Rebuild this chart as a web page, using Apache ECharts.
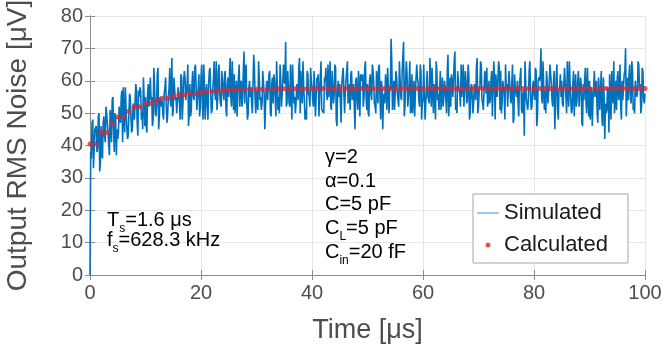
<!DOCTYPE html>
<html>
<head>
<meta charset="utf-8">
<script src="https://cdn.jsdelivr.net/npm/echarts@6/dist/echarts.min.js"></script>
<style>
  html, body { margin: 0; padding: 0; background: #fff; }
  #chart { width: 664px; height: 358px; }
</style>
</head>
<body>
<div id="chart"></div>
<script>
// simulated output noise, one sample every 0.125 us, one row per us
var simStep = 0.125;
var simulated = [
    0, 38, 36, 47, 48, 33, 39, 45,
    45, 46, 38, 39, 49, 50, 32, 35,
    46, 37, 36, 47, 49, 43, 41, 52,
    50, 47, 44, 40, 37, 51, 49, 41,
    54, 55, 45, 38, 50, 48, 37, 45,
    42, 44, 52, 50, 47, 55, 57, 41,
    58, 49, 44, 58, 51, 46, 42, 43,
    49, 56, 55, 49, 44, 45, 52, 53,
    48, 48, 59, 57, 47, 43, 57, 55,
    58, 57, 48, 50, 45, 61, 55, 46,
    55, 46, 44, 56, 59, 52, 52, 61,
    54, 55, 46, 48, 64, 59, 50, 49,
    52, 62, 64, 45, 49, 55, 55, 52,
    54, 50, 48, 56, 58, 61, 52, 47,
    50, 55, 58, 64, 53, 52, 67, 49,
    51, 61, 61, 54, 55, 50, 50, 58,
    58, 53, 48, 62, 61, 48, 53, 60,
    63, 61, 54, 54, 59, 65, 46, 50,
    59, 49, 51, 59, 63, 55, 54, 64,
    65, 58, 51, 51, 58, 62, 49, 52,
    61, 65, 54, 48, 65, 58, 48, 55,
    59, 53, 48, 59, 63, 64, 56, 50,
    51, 57, 61, 66, 56, 54, 66, 51,
    54, 63, 65, 56, 53, 52, 63, 60,
    56, 54, 62, 63, 51, 49, 59, 61,
    55, 62, 67, 55, 52, 66, 58, 51,
    62, 50, 56, 60, 49, 56, 61, 65,
    52, 59, 60, 52, 55, 63, 69, 53,
    63, 65, 53, 48, 50, 58, 60, 55,
    58, 53, 50, 59, 68, 64, 54, 50,
    57, 57, 51, 66, 61, 54, 55, 51,
    53, 63, 63, 56, 45, 52, 58, 60,
    54, 54, 62, 63, 50, 49, 59, 61,
    53, 62, 60, 55, 49, 66, 66, 51,
    55, 50, 65, 60, 52, 56, 60, 65,
    60, 59, 72, 52, 53, 63, 58, 53,
    52, 65, 58, 48, 65, 58, 53, 55,
    50, 53, 59, 59, 54, 64, 67, 50,
    63, 57, 53, 66, 58, 54, 48, 51,
    48, 63, 62, 56, 55, 52, 64, 60,
    58, 54, 52, 63, 63, 49, 55, 61,
    60, 62, 49, 55, 61, 66, 51, 51,
    51, 50, 61, 60, 64, 56, 54, 65,
    55, 59, 66, 52, 51, 63, 58, 53,
    56, 65, 64, 48, 46, 58, 60, 55,
    59, 53, 47, 59, 62, 64, 56, 50,
    57, 57, 63, 66, 53, 54, 59, 51,
    62, 63, 54, 56, 59, 52, 45, 60,
    61, 54, 51, 63, 57, 49, 62, 61,
    60, 62, 52, 55, 64, 66, 55, 51,
    59, 50, 49, 60, 62, 56, 54, 65,
    63, 59, 53, 52, 50, 63, 60, 53,
    64, 65, 55, 48, 60, 58, 45, 55,
    56, 53, 62, 59, 51, 64, 59, 50,
    58, 57, 73, 66, 51, 54, 60, 51,
    51, 63, 61, 56, 56, 52, 66, 60,
    55, 54, 63, 63, 72, 49, 52, 61,
    66, 62, 52, 55, 59, 66, 50, 51,
    62, 50, 56, 60, 49, 56, 61, 65,
    61, 59, 54, 52, 65, 63, 48, 53,
    54, 65, 65, 48, 53, 58, 63, 55,
    55, 53, 67, 59, 52, 64, 58, 50,
    59, 57, 48, 66, 63, 54, 56, 51,
    57, 63, 51, 56, 61, 52, 55, 60,
    58, 54, 50, 63, 68, 49, 54, 61,
    52, 62, 60, 55, 55, 66, 69, 51,
    53, 50, 63, 60, 57, 56, 52, 65,
    55, 59, 65, 52, 52, 63, 60, 53,
    54, 65, 62, 48, 50, 58, 59, 55,
    50, 53, 59, 59, 54, 64, 67, 50,
    52, 57, 58, 66, 65, 54, 53, 51,
    51, 63, 61, 56, 64, 52, 54, 60,
    53, 54, 60, 63, 49, 49, 66, 61,
    48, 62, 62, 55, 55, 66, 64, 51,
    63, 50, 53, 60, 58, 56, 48, 65,
    58, 59, 52, 52, 63, 63, 55, 53,
    59, 65, 47, 48, 62, 58, 56, 55,
    60, 53, 49, 59, 61, 64, 51, 50,
    56, 57, 43, 66, 60, 54, 54, 51,
    55, 63, 66, 56, 51, 52, 58, 60,
    56, 54, 64, 63, 46, 49, 60, 61,
    60, 62, 70, 55, 53, 66, 58, 51,
    57, 50, 63, 60, 53, 56, 59, 65,
    62, 59, 54, 52, 59, 63, 45, 53,
    61, 65, 51, 48, 57, 58, 62, 55,
    60, 53, 52, 59, 64, 64, 55, 50,
    66, 57, 52, 66, 59, 54, 50, 51,
    59, 63, 49, 56, 62, 52, 54, 60,
    63, 52, 52, 61, 59, 47, 46, 59,
    54, 60, 64, 53, 50, 64, 57, 49,
    60, 48, 53, 58, 46, 54, 58, 63,
    55, 57, 60, 50, 47, 61, 57, 51,
    58, 63, 48, 46, 61, 56, 42, 53,
    50, 51, 58, 57, 44, 62, 62, 48,
    63, 57, 53, 66, 50, 54, 60, 51,
    61, 63, 54, 56, 65, 52, 48, 60,
    54, 54, 62, 63, 70, 49, 55, 61,
    54, 62, 65, 55, 53, 66, 63, 51,
    52, 50, 60, 60, 55, 56, 66, 65,
    58, 59, 50, 52, 64, 63, 54, 53,
    56
];

// calculated noise, one point per us
var calculated = [
    40.5, 40.5, 44.0, 44.0, 46.7, 48.8, 48.8, 50.6, 52.0, 52.0,
    53.0, 53.0, 53.9, 54.6, 54.6, 55.2, 55.7, 55.7, 56.1, 56.1,
    56.4, 56.7, 56.7, 56.9, 57.1, 57.1, 57.2, 57.2, 57.3, 57.3,
    57.4, 57.4, 57.4, 57.4, 57.5, 57.5, 57.5, 57.5, 57.5, 57.5,
    57.6, 57.6, 57.6, 57.6, 57.6, 57.6, 57.6, 57.6, 57.6, 57.6,
    57.6, 57.6, 57.6, 57.6, 57.6, 57.6, 57.6, 57.6, 57.6, 57.6,
    57.6, 57.6, 57.6, 57.6, 57.6, 57.6, 57.6, 57.6, 57.6, 57.6,
    57.6, 57.6, 57.6, 57.6, 57.6, 57.6, 57.6, 57.6, 57.6, 57.6,
    57.6, 57.6, 57.6, 57.6, 57.6, 57.6, 57.6, 57.6, 57.6, 57.6,
    57.6, 57.6, 57.6, 57.6, 57.6, 57.6, 57.6, 57.6, 57.6, 57.6,
    57.6
];

var xTicks = { min: 0, max: 100, interval: 20 };
var yTicks = { min: 0, max: 80, interval: 10 };

var FONT = '"Liberation Sans", Arial, Helvetica, sans-serif';
var TXT = '#4d4d4d';
var AX = '#8c8c8c';

var simData = simulated.map(function (v, i) { return [i * simStep, v]; });
var calcData = calculated.map(function (v, i) { return [i, v]; });

var chart = echarts.init(document.getElementById('chart'));

var rich = {
    n: { fontSize: 20, fontFamily: FONT, color: '#1a1a1a', lineHeight: 22 },
    s: { fontSize: 12, fontFamily: FONT, color: '#1a1a1a', lineHeight: 30, verticalAlign: 'bottom' }
};
function label(x, y, text) {
    return {
        type: 'text', left: x, top: y, z: 100,
        style: { text: text, rich: rich }
    };
}

var option = {
    animation: false,
    grid: { left: 90, right: 19, top: 16, bottom: 83, outerBoundsMode: 'none' },
    xAxis: [
        {
            type: 'value', min: xTicks.min, max: xTicks.max, interval: xTicks.interval,
            position: 'bottom',
            name: 'Time [μs]', nameLocation: 'middle', nameGap: 42,
            nameTextStyle: { fontSize: 27, color: TXT, fontFamily: FONT },
            axisLine: { lineStyle: { color: AX } },
            axisTick: { inside: true, length: 5, lineStyle: { color: AX } },
            axisLabel: { fontSize: 20, color: TXT, fontFamily: FONT, margin: 8 },
            splitLine: { show: true, lineStyle: { color: '#e6e6e6' } }
        },
        {
            type: 'value', min: xTicks.min, max: xTicks.max, interval: xTicks.interval,
            position: 'top',
            axisLine: { show: true, lineStyle: { color: AX } },
            axisTick: { inside: true, length: 5, lineStyle: { color: AX } },
            axisLabel: { show: false },
            splitLine: { show: false }
        }
    ],
    yAxis: [
        {
            type: 'value', min: yTicks.min, max: yTicks.max, interval: yTicks.interval,
            position: 'left',
            name: 'Output RMS Noise [μV]', nameLocation: 'middle', nameGap: 58,
            nameTextStyle: { fontSize: 28, color: TXT, fontFamily: FONT },
            axisLine: { show: true, lineStyle: { color: AX } },
            axisTick: { show: true, inside: true, length: 5, lineStyle: { color: AX } },
            axisLabel: { fontSize: 20, color: TXT, fontFamily: FONT, margin: 7 },
            splitLine: { show: true, lineStyle: { color: '#e6e6e6' } }
        },
        {
            type: 'value', min: yTicks.min, max: yTicks.max, interval: yTicks.interval,
            position: 'right',
            axisLine: { show: true, lineStyle: { color: AX } },
            axisTick: { show: true, inside: true, length: 5, lineStyle: { color: AX } },
            axisLabel: { show: false },
            splitLine: { show: false }
        }
    ],
    legend: {
        orient: 'vertical',
        left: 473, top: 194,
        padding: [8, 20, 7, 4],
        itemGap: 10,
        itemWidth: 22, itemHeight: 5,
        borderColor: '#a6a6a6', borderWidth: 1, borderRadius: 0,
        backgroundColor: '#ffffff',
        textStyle: { fontSize: 22, color: '#1a1a1a', fontFamily: FONT },
        data: [
            // thin line icon: the extra move-to points keep the 22x5 box so the bar stays 1px tall
            { name: 'Simulated', icon: 'path://M0,0M0,2L22,2L22,3L0,3ZM22,5', itemStyle: { color: '#3d8fd0' } },
            { name: 'Calculated', icon: 'circle' }
        ]
    },
    series: [
        {
            name: 'Simulated',
            type: 'line',
            data: simData,
            symbol: 'none',
            sampling: 'none',
            lineStyle: { color: '#0072bd', width: 1.6 },
            itemStyle: { color: '#0072bd' },
            z: 2
        },
        {
            name: 'Calculated',
            type: 'scatter',
            data: calcData,
            symbol: 'circle',
            symbolSize: 5,
            itemStyle: { color: '#e3242b' },
            z: 3
        }
    ],
    graphic: [
        label(107, 210, '{n|T}{s|s}{n|=1.6 μs}'),
        label(107, 230, '{n|f}{s|s}{n|=628.3 kHz}'),
        label(325, 147, '{n|γ=2}'),
        label(325, 171, '{n|α=0.1}'),
        label(325, 194, '{n|C=5 pF}'),
        label(325, 218, '{n|C}{s|L}{n|=5 pF}'),
        label(325, 242, '{n|C}{s|in}{n|=20 fF}')
    ]
};

chart.setOption(option);
</script>
</body>
</html>
